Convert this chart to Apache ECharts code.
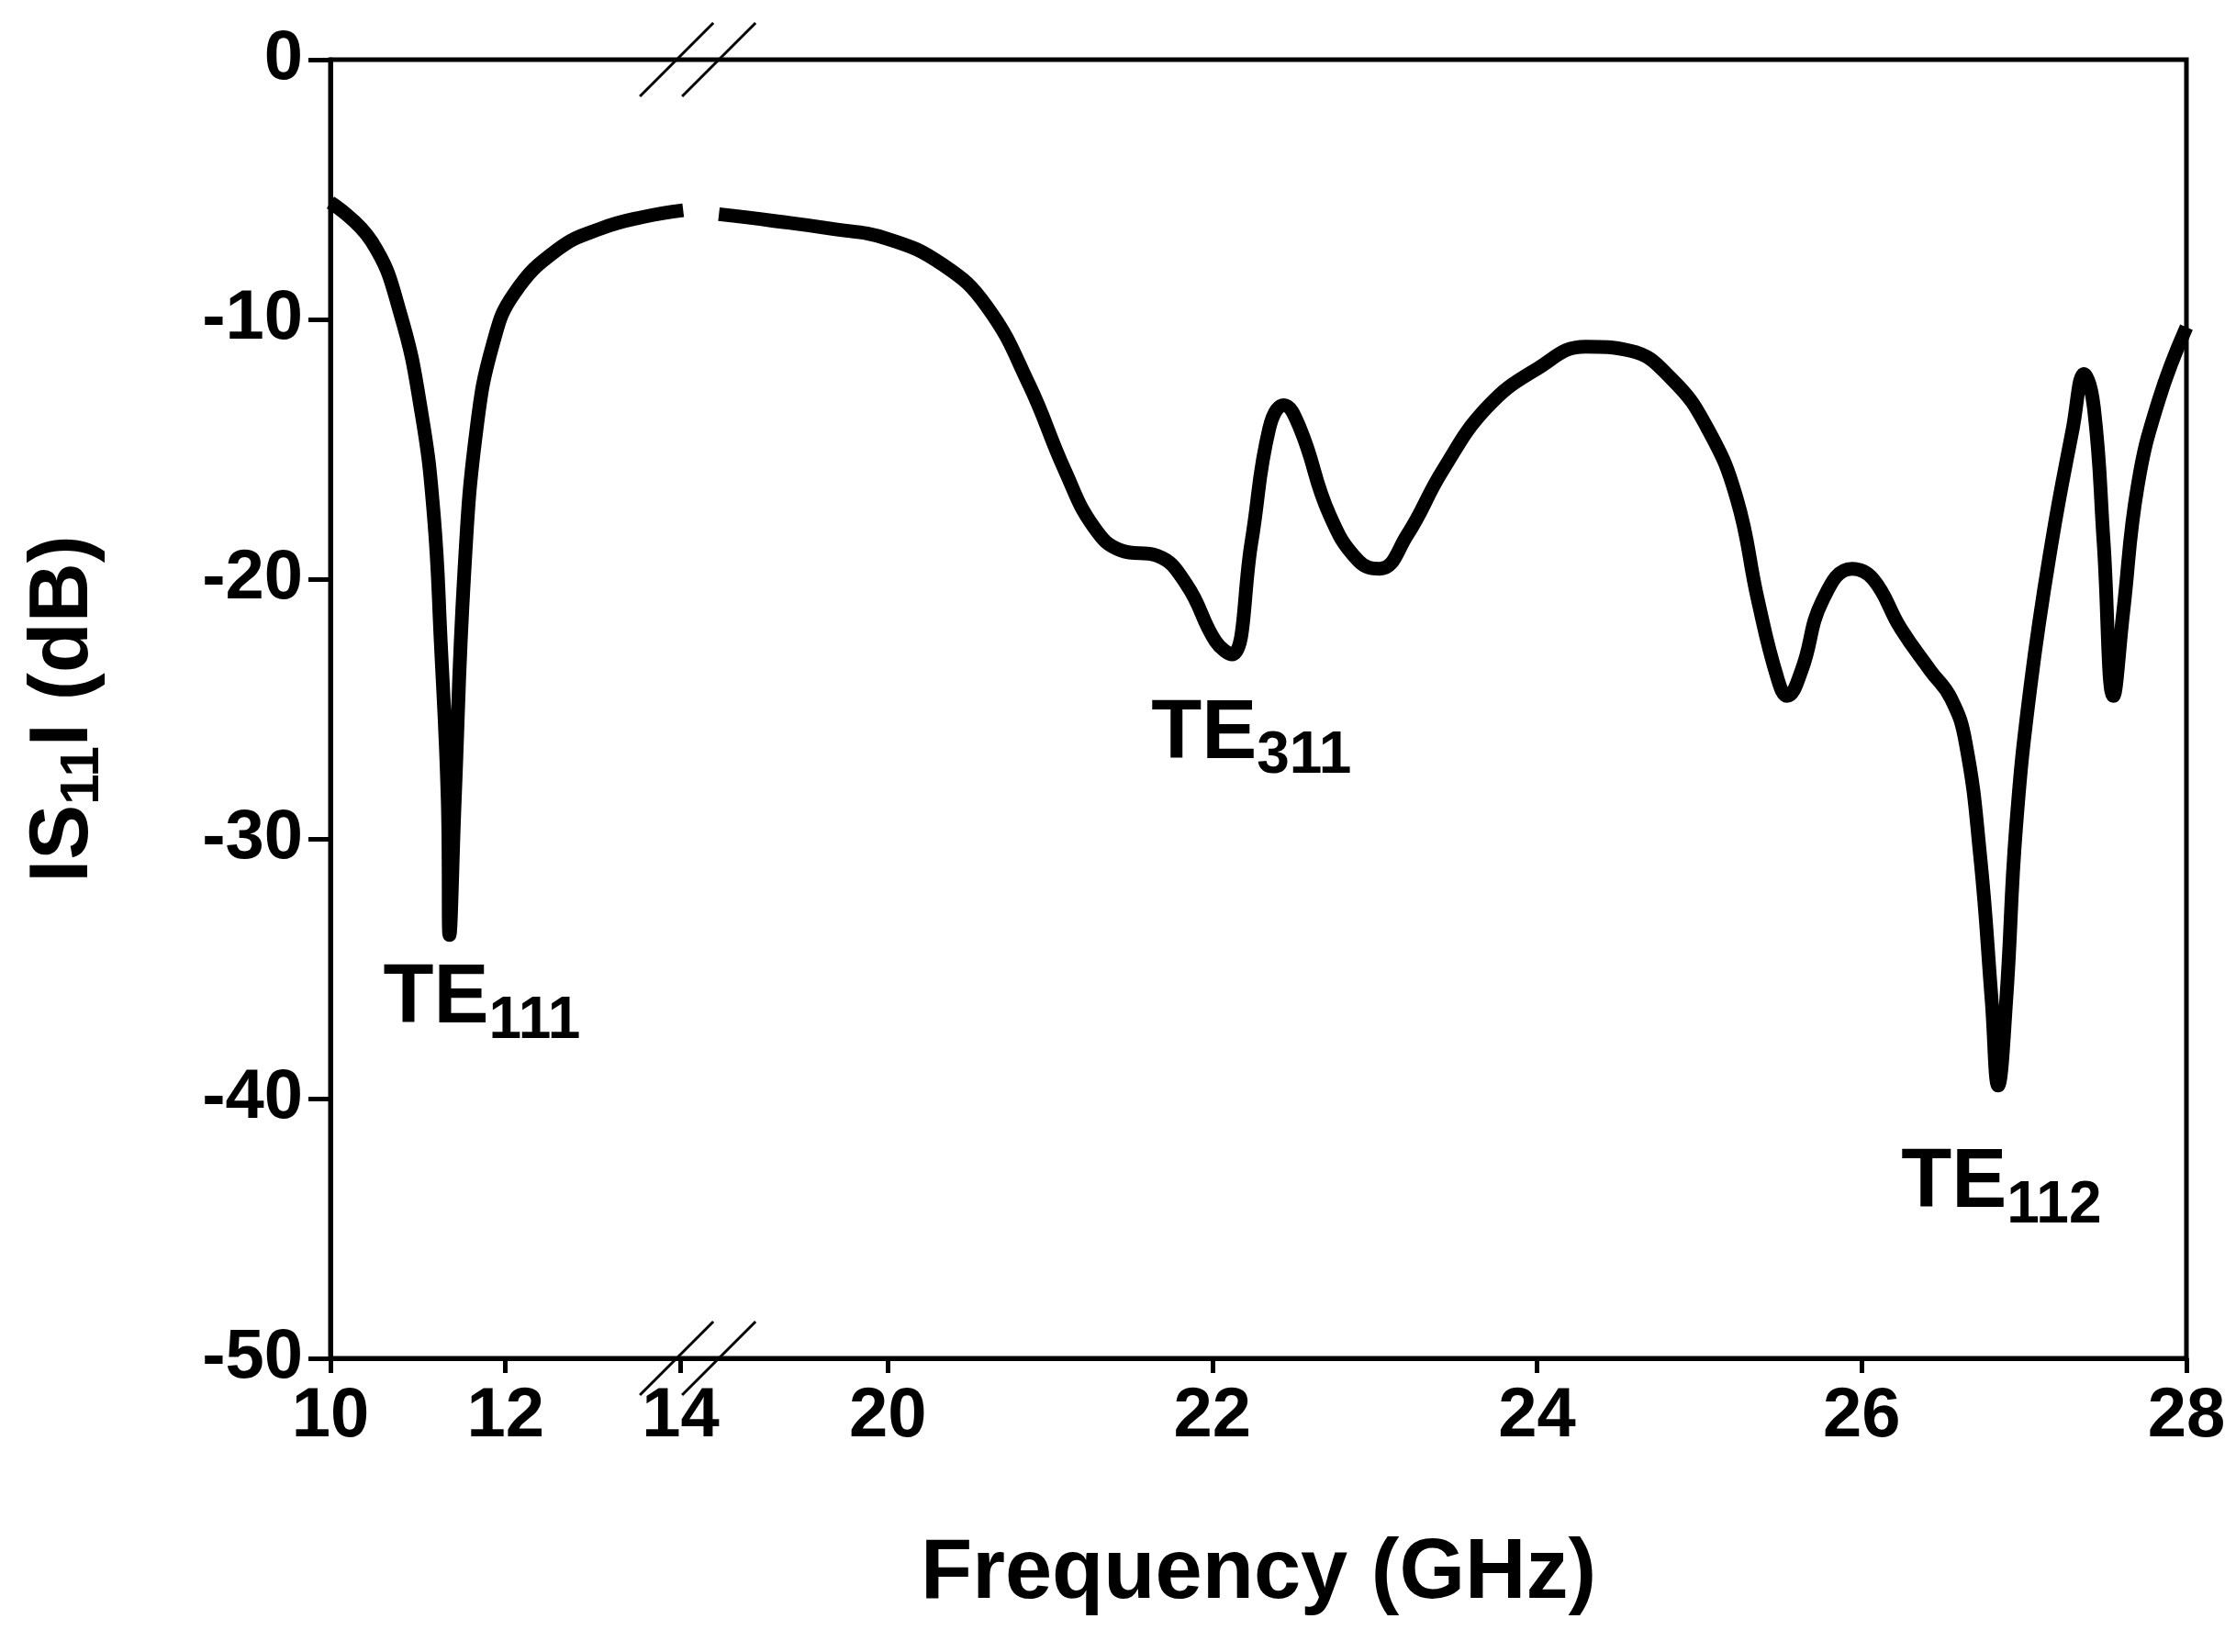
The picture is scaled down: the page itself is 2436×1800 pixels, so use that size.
<!DOCTYPE html>
<html><head><meta charset="utf-8">
<script src="https://cdn.jsdelivr.net/npm/echarts@6/dist/echarts.min.js"></script>
<style>html,body{margin:0;background:#fff}#c{width:2436px;height:1800px}</style></head>
<body><div id="c"></div>
<script>
// Segment 1 (10–14 GHz, compressed scale)
const freqLow = [10,10.47,10.8,11.04,11.18,11.26,11.34,11.36,11.42,11.53,11.67,11.86,12.1,12.6,13.09,13.58,14.03];
const s11Low  = [-5.5,-7.0,-9.8,-13.6,-17.5,-22.4,-28.5,-33.7,-28.5,-19.7,-14.2,-10.9,-9.0,-7.3,-6.5,-6.05,-5.8];
// Segment 2 (after the break, 20–28 GHz scale)
const freqHigh = [18.96,19.29,19.64,20,20.34,20.61,20.87,21.09,21.27,21.44,21.66,21.84,22.02,22.12,22.24,22.35,22.44,22.54,22.72,22.9,23.03,23.2,23.42,23.69,24,24.3,24.57,24.83,25.05,25.23,25.36,25.48,25.54,25.63,25.76,25.94,26.07,26.24,26.42,26.55,26.64,26.73,26.8,26.84,26.89,26.95,27.04,27.17,27.3,27.37,27.43,27.49,27.55,27.61,27.7,27.83,28];
const s11High  = [-5.95,-6.2,-6.5,-6.9,-7.9,-9.5,-12.5,-15.8,-18.0,-18.9,-19.1,-20.2,-22.4,-22.9,-18.6,-14.2,-13.3,-14.2,-17.5,-19.3,-19.6,-18.3,-15.8,-13.4,-11.9,-11.05,-11.2,-12.3,-14.2,-16.9,-20.8,-23.8,-24.5,-23.5,-20.8,-19.6,-20.0,-21.9,-23.5,-24.6,-26.3,-30.7,-36.2,-39.5,-36.2,-29.6,-24.1,-18.6,-14.2,-12.1,-13.4,-18.6,-24.5,-21.3,-16.4,-13.1,-10.3];
const xTickLabels = [10,12,14,20,22,24,26,28];
const modeNames = ['111','311','112'];
const modeFreq = [11.73,22.24,26.86];
const modeS11 = [-36.2,-26.0,-43.3];

// piecewise frequency -> axis coordinate
const LOWK = 0.5392, OFF = 3.433;
function u(f, low){ return low ? (f-10)*LOWK : OFF + (f-20); }
function fOf(v){ if (v <= 2.2) return 10 + v/LOWK; return 20 + (v-OFF); }
const lowData = freqLow.map((f,i)=>[u(f,true), s11Low[i]]);
const highData = freqHigh.map((f,i)=>[u(f,false), s11High[i]]);
const tickPos = xTickLabels.map(f => f<=14 ? u(f,true) : u(f,false));
const lbl = modeFreq.map((f,i)=>({value:[u(f, f<15), modeS11[i]], name:modeNames[i]}));

const chart = echarts.init(document.getElementById('c'));
const F = 'Liberation Sans';
const lineStyle = {color:'#000', width:15};
chart.setOption({
  animation:false,
  grid:{left:360, right:54, top:65, bottom:320, show:true, borderColor:'#000', borderWidth:5},
  xAxis:{type:'value', min:0, max:u(28,false),
    axisLine:{onZero:false, lineStyle:{color:'#000',width:5}},
    axisTick:{customValues:tickPos, length:16, lineStyle:{color:'#000',width:5}},
    axisLabel:{customValues:tickPos, margin:26, color:'#000', fontFamily:F, fontWeight:'bold', fontSize:76,
      formatter:v=>String(Math.round(fOf(v)))},
    splitLine:{show:false},
    name:'Frequency (GHz)', nameLocation:'middle', nameGap:190,
    nameTextStyle:{color:'#000', fontFamily:F, fontWeight:'bold', fontSize:92}},
  yAxis:{type:'value', min:-50, max:0, interval:10,
    axisLine:{show:true, lineStyle:{color:'#000',width:5}},
    axisTick:{show:true, length:24, lineStyle:{color:'#000',width:5}},
    axisLabel:{margin:30, color:'#000', fontFamily:F, fontWeight:'bold', fontSize:76},
    splitLine:{show:false},
    name:'{m|IS}{s|11}{m|I (dB)}', nameLocation:'middle', nameGap:240,
    nameTextStyle:{rich:{m:{color:'#000', fontFamily:F, fontWeight:'bold', fontSize:90},
      s:{color:'#000', fontFamily:F, fontWeight:'bold', fontSize:60, padding:[40,0,0,0]}}}},
  series:[
    {type:'line', data:lowData, smooth:0.45, showSymbol:false, lineStyle},
    {type:'line', data:highData, smooth:0.45, showSymbol:false, lineStyle},
    {type:'scatter', data:lbl, symbolSize:1, itemStyle:{opacity:0},
      label:{show:true, position:'inside', color:'#000', opacity:1, formatter:p=>'{m|TE}{s|'+p.name+'}',
        rich:{m:{color:'#000', fontFamily:F, fontWeight:'bold', fontSize:90},
          s:{color:'#000', fontFamily:F, fontWeight:'bold', fontSize:64, padding:[48,0,0,0]}}}}
  ]
});
// break marks
const b = chart.convertToPixel({gridIndex:0},[u(14,true)+0.1,0]);
const bb = chart.convertToPixel({gridIndex:0},[u(14,true)+0.1,-50]);
const g = [];
[b[1], bb[1]].forEach(y=>{
  [-22, 24].forEach(dx=>{
    g.push({type:'line', shape:{x1:b[0]+dx-40, y1:y+40, x2:b[0]+dx+40, y2:y-40}, style:{stroke:'#000', lineWidth:3}});
  });
});
chart.setOption({graphic:g});
</script></body></html>
